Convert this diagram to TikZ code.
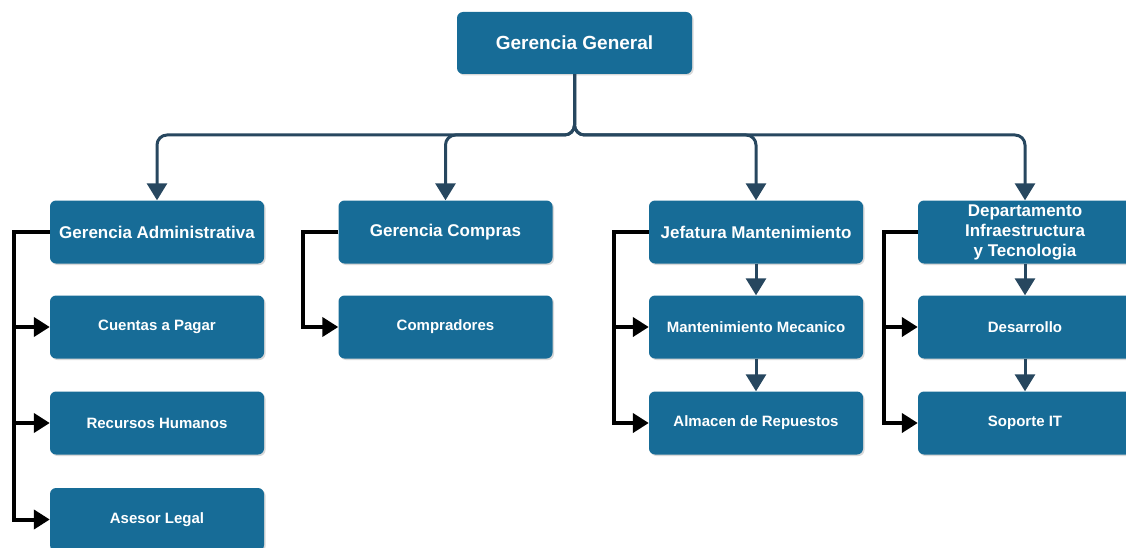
\documentclass[tikz,border=0pt]{standalone}
\usepackage{fontspec}
\setmainfont{Liberation Sans}
\usepackage{xcolor}
\usepackage{tikz}
\usetikzlibrary{arrows.meta,shadows}
\definecolor{boxblue}{HTML}{176C97}
\definecolor{linknavy}{HTML}{27475F}
\tikzset{
  OrgBox/.style={
    draw=none, fill=boxblue, text=white,
    font=\bfseries\fontsize{15}{18}\selectfont,
    rounded corners=6pt,
    minimum width=214pt, minimum height=63pt,
    inner sep=2pt, align=center,
    drop shadow={opacity=0.3, shadow xshift=1.5pt, shadow yshift=-1.5pt}
  },
  HeadBox/.style={OrgBox, font=\bfseries\fontsize{17}{20}\selectfont},
  TopBox/.style={OrgBox, font=\bfseries\fontsize{19}{22}\selectfont,
    minimum width=235pt, minimum height=62pt},
  DownLink/.style={draw=linknavy, line width=3pt,
    -{Triangle[width=20pt,length=17pt]}},
  SideLink/.style={draw=black, line width=4pt,
    -{Triangle[width=19pt,length=16pt]}}
}

\begin{document}
\begin{tikzpicture}[x=1pt, y=-1pt, line join=miter]
  \useasboundingbox (0,0) rectangle (1126,548);

  % top
  \node[TopBox] (gg) at (574.5,43) {Gerencia General};
  \coordinate (bar) at (574.5,135);

  % heads
  \node[HeadBox] (ga) at (157,232)   {Gerencia Administrativa};
  \node[HeadBox] (gc) at (445.5,232) {Gerencia Compras};
  \node[HeadBox] (jm) at (756,232)   {Jefatura Mantenimiento};
  \node[HeadBox] (di) at (1025,232)  {Departamento\\Infraestructura\\y Tecnologia};

  % units
  \node[OrgBox] (cp) at (157,327)   {Cuentas a Pagar};
  \node[OrgBox] (rh) at (157,423)   {Recursos Humanos};
  \node[OrgBox] (al) at (157,519.5) {Asesor Legal};
  \node[OrgBox] (co) at (445.5,327) {Compradores};
  \node[OrgBox] (mm) at (756,327)   {Mantenimiento Mecanico};
  \node[OrgBox] (ar) at (756,423)   {Almacen de Repuestos};
  \node[OrgBox] (de) at (1025,327)  {Desarrollo};
  \node[OrgBox] (si) at (1025,423)  {Soporte IT};

  % tree from the top
  \draw[DownLink, rounded corners=10pt] (gg.south) -- (bar) -| (ga.north);
  \draw[DownLink, rounded corners=10pt] (gg.south) -- (bar) -| (gc.north);
  \draw[DownLink, rounded corners=10pt] (gg.south) -- (bar) -| (jm.north);
  \draw[DownLink, rounded corners=10pt] (gg.south) -- (bar) -| (di.north);

  % chains
  \draw[DownLink] (jm.south) -- (mm.north);
  \draw[DownLink] (mm.south) -- (ar.north);
  \draw[DownLink] (di.south) -- (de.north);
  \draw[DownLink] (de.south) -- (si.north);

  % side brackets
  \draw[SideLink] (ga.west) -- ++(-36,0) |- (cp.west);
  \draw[SideLink] (ga.west) -- ++(-36,0) |- (rh.west);
  \draw[SideLink] (ga.west) -- ++(-36,0) |- (al.west);
  \draw[SideLink] (gc.west) -- ++(-35,0) |- (co.west);
  \draw[SideLink] (jm.west) -- ++(-35,0) |- (mm.west);
  \draw[SideLink] (jm.west) -- ++(-35,0) |- (ar.west);
  \draw[SideLink] (di.west) -- ++(-34,0) |- (de.west);
  \draw[SideLink] (di.west) -- ++(-34,0) |- (si.west);
\end{tikzpicture}
\end{document}
